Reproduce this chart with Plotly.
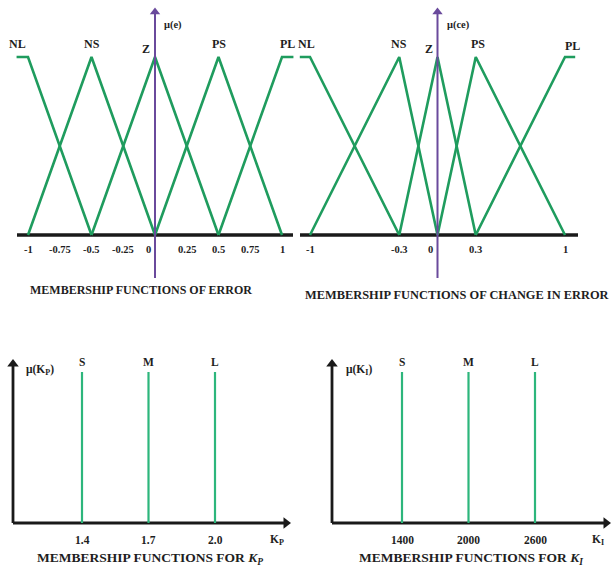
import plotly.graph_objects as go

W, H = 614, 574

# ---------------- data ----------------
err_sets = ["NL", "NS", "Z", "PS", "PL"]
err_set_x = [[-1.09, -1.0, -0.5], [-1.0, -0.5, 0.0], [-0.5, 0.0, 0.5], [0.0, 0.5, 1.0], [0.5, 1.0, 1.09]]
err_set_mu = [[1, 1, 0], [0, 1, 0], [0, 1, 0], [0, 1, 0], [0, 1, 1]]
err_ticks = [-1, -0.75, -0.5, -0.25, 0, 0.25, 0.5, 0.75, 1]
err_tick_text = ["-1", "-0.75", "-0.5", "-0.25", "0", "0.25", "0.5", "0.75", "1"]

derr_sets = ["NL", "NS", "Z", "PS", "PL"]
derr_set_x = [[-1.08, -1.0, -0.3], [-1.0, -0.3, 0.0], [-0.3, 0.0, 0.3], [0.0, 0.3, 1.0], [0.3, 1.0, 1.08]]
derr_set_mu = [[1, 1, 0], [0, 1, 0], [0, 1, 0], [0, 1, 0], [0, 1, 1]]
derr_ticks = [-1, -0.3, 0, 0.3, 1]
derr_tick_text = ["-1", "-0.3", "0", "0.3", "1"]

kp_sets = ["S", "M", "L"]
kp_values = [1.4, 1.7, 2.0]
kp_tick_text = ["1.4", "1.7", "2.0"]

ki_sets = ["S", "M", "L"]
ki_values = [1400, 2000, 2600]
ki_tick_text = ["1400", "2000", "2600"]

# ---------------- styling / geometry ----------------
FONT = "Liberation Serif"
TXT = "#1e1e1e"
GREEN = "#1f9c5e"
GREEN2 = "#2db67c"
PURPLE = "#6a4a9c"
BLACK = "#1a1a1a"

# panel: domain px box (x0,x1,y0,y1 top-down) and two anchors for x and y mapping
panels = {
    1: dict(box=(0, 300, 0, 300), xa=((-1, 28), (1, 282)), ya=((0, 235), (1, 57))),
    2: dict(box=(296, 614, 0, 300), xa=((-1, 310), (1, 565)), ya=((0, 235), (1, 57))),
    3: dict(box=(0, 307, 305, 574), xa=((1.4, 82), (2.0, 215)), ya=((0, 523), (1, 372))),
    4: dict(box=(307, 614, 305, 574), xa=((1400, 402), (2600, 535)), ya=((0, 523), (1, 372))),
}


def lin(anchors):
    (v1, p1), (v2, p2) = anchors
    b = (p2 - p1) / (v2 - v1)
    return lambda p: v1 + (p - p1) / b


fig = go.Figure()
layout = dict(width=W, height=H, margin=dict(l=0, r=0, t=0, b=0),
              paper_bgcolor="white", plot_bgcolor="rgba(0,0,0,0)", showlegend=False)
inv = {}
for k, p in panels.items():
    x0, x1, y0, y1 = p["box"]
    fx, fy = lin(p["xa"]), lin(p["ya"])
    inv[k] = (fx, fy)
    sx = "" if k == 1 else str(k)
    layout["xaxis" + sx] = dict(domain=[x0 / W, x1 / W], range=[fx(x0), fx(x1)], visible=False,
                                 anchor="y" + sx, fixedrange=True)
    layout["yaxis" + sx] = dict(domain=[1 - y1 / H, 1 - y0 / H], range=[fy(y1), fy(y0)], visible=False,
                                 anchor="x" + sx, fixedrange=True)
fig.update_layout(**layout)

annotations = []


def ax_ref(k):
    s = "" if k == 1 else str(k)
    return "x" + s, "y" + s


def text(k, x, y, t, size=9, xshift=0, yshift=0, xanchor="center"):
    xr, yr = ax_ref(k)
    annotations.append(dict(x=x, y=y, xref=xr, yref=yr, text=t, showarrow=False,
                            xshift=xshift, yshift=yshift, xanchor=xanchor,
                            font=dict(family=FONT, size=size, color=TXT)))


def head(k, x, y, symbol, color, size):
    xr, yr = ax_ref(k)
    fig.add_trace(go.Scatter(x=[x], y=[y], mode="markers", xaxis=xr, yaxis=yr, cliponaxis=False,
                             marker=dict(symbol=symbol, size=size, color=color, line=dict(width=0)),
                             hoverinfo="skip"))


def line(k, xs, ys, color, width):
    xr, yr = ax_ref(k)
    fig.add_trace(go.Scatter(x=xs, y=ys, mode="lines", xaxis=xr, yaxis=yr,
                             line=dict(color=color, width=width), hoverinfo="skip"))


# ---------- top panels ----------
top = [
    (1, err_sets, err_set_x, err_set_mu, err_ticks, err_tick_text, "μ(e)",
     (17, 293), [-11, 0, -9, 0, 5], [0, 0, -5, 0, 0],
     "MEMBERSHIP FUNCTIONS OF ERROR", 141, 290, 12),
    (2, derr_sets, derr_set_x, derr_set_mu, derr_ticks, derr_tick_text, "μ(ce)",
     (300, 578), [-4, 0, -9, 2, 7], [0, 0, -5, 0, -2],
     "MEMBERSHIP FUNCTIONS OF CHANGE IN ERROR", 457, 295, 12.4),
]
for (k, names, xs, mus, ticks, ttext, mulab, axpx, lxs, lys, title, tx, ty, tsize) in top:
    fx, fy = inv[k]
    # horizontal axis
    line(k, [fx(axpx[0]), fx(axpx[1])], [0, 0], BLACK, 3.5)
    # membership functions
    for xv, mv in zip(xs, mus):
        line(k, xv, mv, GREEN, 2.6)
    # vertical purple axis with arrow
    line(k, [0, 0], [fy(278), fy(14)], PURPLE, 2)
    head(k, 0, fy(12), "triangle-up", PURPLE, 9)
    text(k, 0, fy(25), "<b>" + mulab + "</b>", size=10.5, xshift=7, xanchor="left")
    # set labels (placed above the core point of each set)
    for name, xv, mv, dx, dy in zip(names, xs, mus, lxs, lys):
        text(k, xv[1], 1, "<b>" + name + "</b>", size=12, xshift=dx, yshift=13 + dy)
    # tick labels
    for tv, tt in zip(ticks, ttext):
        text(k, tv, 0, "<b>" + tt + "</b>", size=10.5, xshift=(-7 if tv == 0 else 0), yshift=-14)
    # title
    text(k, fx(tx), fy(ty), "<b>" + title + "</b>", size=tsize)

# ---------- bottom panels ----------
bottom = [
    (3, kp_sets, kp_values, kp_tick_text, "μ(K<sub>P</sub>)", "K<sub>P</sub>",
     13, 290, 40, 277, "MEMBERSHIP FUNCTIONS FOR <i>K<sub>P</sub></i>", 150),
    (4, ki_sets, ki_values, ki_tick_text, "μ(K<sub>I</sub>)", "K<sub>I</sub>",
     332, 610, 359, 598, "MEMBERSHIP FUNCTIONS FOR <i>K<sub>I</sub></i>", 471),
]
for (k, names, vals, ttext, mulab, xlab, ox, xend, mux, xlx, title, tx) in bottom:
    fx, fy = inv[k]
    x_origin = fx(ox)
    # axes with arrows
    line(k, [x_origin, fx(xend - 6)], [0, 0], BLACK, 2.8)
    line(k, [x_origin, x_origin], [0, fy(364)], BLACK, 2.8)
    head(k, fx(xend - 4), 0, "triangle-right", BLACK, 10)
    head(k, x_origin, fy(364), "triangle-up", BLACK, 10)
    # singleton lines
    for name, v, tt in zip(names, vals, ttext):
        line(k, [v, v], [0, 1], GREEN2, 2.2)
        text(k, v, 1, "<b>" + name + "</b>", size=11.5, yshift=10)
        text(k, v, 0, "<b>" + tt + "</b>", size=11.5, yshift=-17)
    text(k, fx(mux), fy(370), "<b>" + mulab + "</b>", size=11.5)
    text(k, fx(xlx), 0, "<b>" + xlab + "</b>", size=11.5, yshift=-17)
    text(k, fx(tx), fy(558), "<b>" + title + "</b>", size=13.5)

fig.update_layout(annotations=annotations)
fig.write_html("out.html", config={"displayModeBar": False},
               post_script="document.body.style.margin='0';")
